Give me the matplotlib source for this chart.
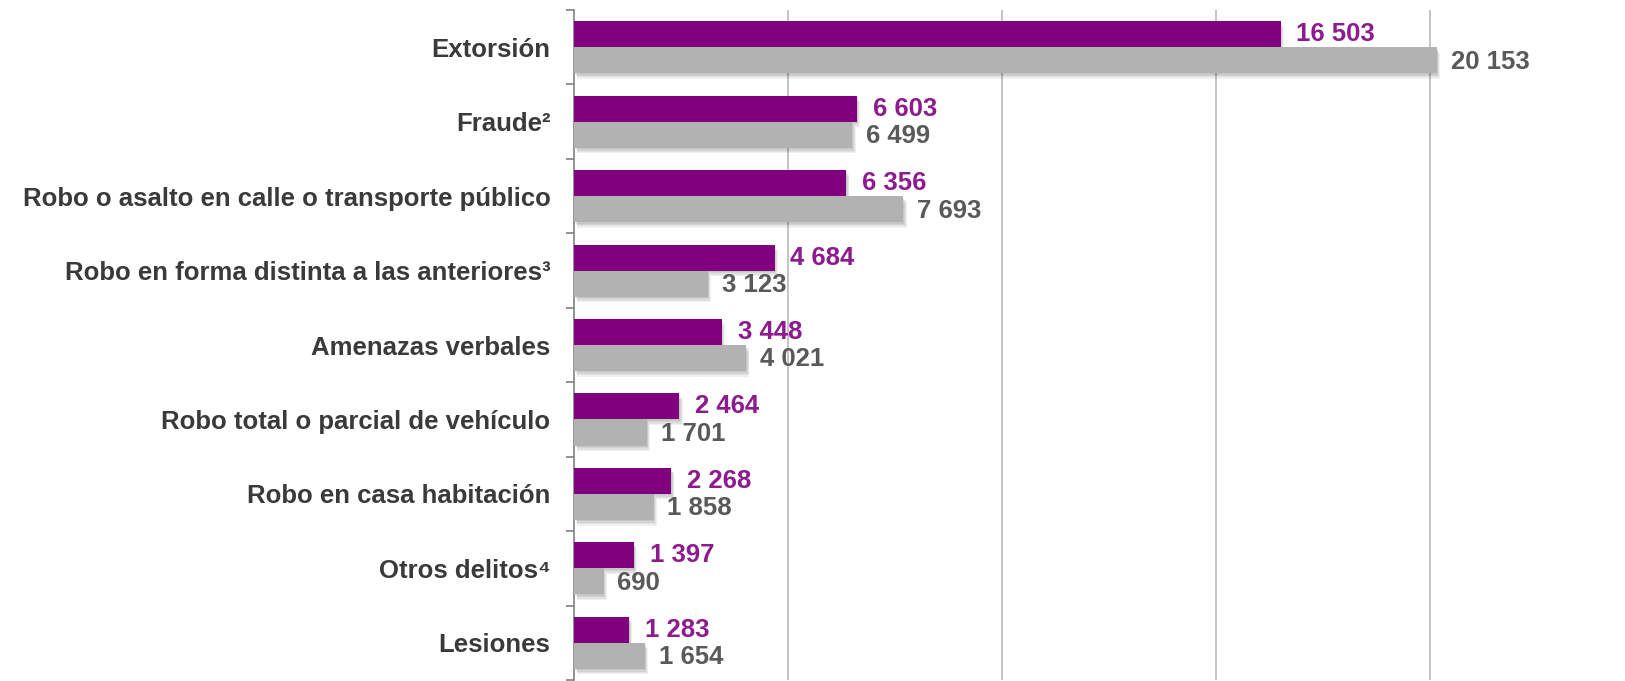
import matplotlib
matplotlib.use("Agg")
import matplotlib.pyplot as plt
import matplotlib.patheffects as pe
import numpy as np

# ─── Data ─────────────────────────────────────────────────────────────────────
categories = [
    "Extorsión",
    "Fraude²",
    "Robo o asalto en calle o transporte público",
    "Robo en forma distinta a las anteriores³",
    "Amenazas verbales",
    "Robo total o parcial de vehículo",
    "Robo en casa habitación",
    "Otros delitos⁴",
    "Lesiones",
]
values_purple = [16503, 6603, 6356, 4684, 3448, 2464, 2268, 1397, 1283]
values_gray = [20153, 6499, 7693, 3123, 4021, 1701, 1858, 690, 1654]

PURPLE = "#800080"
PURPLE_TXT = "#8E1B8E"
GRAY = "#B2B2B2"
GRAY_TXT = "#595959"
LABEL_TXT = "#3A3A3A"
FONT = ["Liberation Sans", "DejaVu Sans"]


def fmt(v):
    return f"{v:,}".replace(",", " ")


fig = plt.figure(figsize=(16.25, 6.81), dpi=100)
W, H = 1625, 681
ax = fig.add_axes([574 / W, 1 / H, (W - 574) / W, 670 / H])

y = np.arange(len(categories))
h = 0.35
# soft drop shadow, built from a few faint offset copies
shadow = [
    pe.SimplePatchShadow(offset=(o * 0.6, -o), shadow_rgbFace="black", alpha=0.06)
    for o in (4, 3, 2, 1)
] + [pe.Normal()]

bars_p = ax.barh(y - h / 2, values_purple, height=h, color=PURPLE, zorder=3)
bars_g = ax.barh(y + h / 2, values_gray, height=h, color=GRAY, zorder=3)
for b in list(bars_p) + list(bars_g):
    b.set_path_effects(shadow)

for yi, vp, vg in zip(y, values_purple, values_gray):
    ax.annotate(fmt(vp), (vp, yi - h / 2), xytext=(11.5, 0), textcoords="offset points",
                ha="left", va="center", fontsize=18.5, fontweight="bold",
                color=PURPLE_TXT, family=FONT)
    ax.annotate(fmt(vg), (vg, yi + h / 2), xytext=(10, -1), textcoords="offset points",
                ha="left", va="center", fontsize=18.5, fontweight="bold",
                color=GRAY_TXT, family=FONT)

ax.set_xlim(0, 24550)
ax.set_ylim(len(categories) - 0.5, -0.5)

ax.set_xticks([5000, 10000, 15000, 20000])
ax.xaxis.grid(True, color="#BFBFBF", linewidth=1.3, zorder=0)
ax.tick_params(axis="x", length=0, labelbottom=False)

ax.set_yticks(y)
ax.set_yticklabels(categories, fontsize=18.5, fontweight="bold", color=LABEL_TXT,
                   family=FONT)
ax.set_yticks(np.arange(len(categories) + 1) - 0.5, minor=True)
ax.tick_params(axis="y", which="major", length=0, pad=17)
ax.tick_params(axis="y", which="minor", length=6, width=1.2, color="#808080")

for side in ["top", "right", "bottom"]:
    ax.spines[side].set_visible(False)
ax.spines["left"].set_color("#808080")
ax.spines["left"].set_linewidth(1.2)
ax.set_axisbelow(True)

fig.savefig("out.png", dpi=100)
